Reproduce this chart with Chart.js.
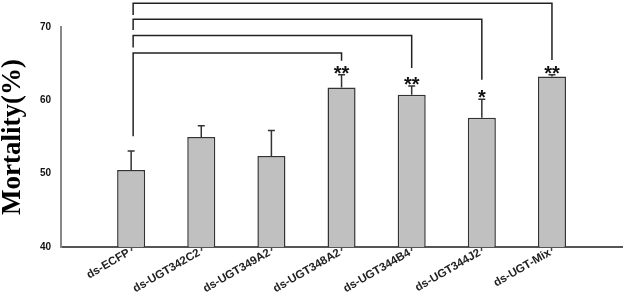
<!DOCTYPE html>
<html>
<head>
<meta charset="utf-8">
<script src="https://cdn.jsdelivr.net/npm/chart.js@4/dist/chart.umd.min.js"></script>
<style>
  html, body { margin: 0; padding: 0; background: #fff; }
  #wrap { width: 624px; height: 295px; }
</style>
</head>
<body>
<div id="wrap"><canvas id="mortalityChart" width="624" height="295"></canvas></div>
<script>
// empty slots at both ends so the bars sit on the inner grid lines
const categories = ['', 'ds-ECFP', 'ds-UGT342C2', 'ds-UGT349A2', 'ds-UGT348A2', 'ds-UGT344B4', 'ds-UGT344J2', 'ds-UGT-Mix', ''];
const mortality = [null, 50.5, 55.0, 52.4, 61.75, 60.76, 57.64, 63.24, null];
const errors = [null, 2.6, 1.55, 3.5, 1.75, 1.2, 2.5, 0.25, null];
const stars = ['', '', '', '', '**', '**', '*', '**', ''];
const yTicks = [40, 50, 60, 70];

// significance brackets: from control to bar, level and drop ends in % units
const bracketFrom = [1, 1, 1, 1];
const bracketTo = [7, 6, 5, 4];
const bracketLevel = [73.25, 71.07, 68.85, 66.46];
const bracketLeftEnd = [71.65, 69.6, 67.2, 55.1];
const bracketRightEnd = [65.5, 62.8, 64.4, 65.4];

const annotations = {
  id: 'annotations',
  afterDatasetsDraw(chart) {
    const ctx = chart.ctx;
    const x = chart.scales.x;
    const y = chart.scales.y;

    ctx.save();
    // error bars
    ctx.strokeStyle = '#333';
    ctx.lineWidth = 1.5;
    for (let i = 0; i < mortality.length; i++) {
      if (mortality[i] == null) continue;
      const px = x.getPixelForValue(i);
      const top = y.getPixelForValue(mortality[i] + errors[i]);
      const base = y.getPixelForValue(mortality[i]);
      ctx.beginPath();
      ctx.moveTo(px, base);
      ctx.lineTo(px, top);
      ctx.moveTo(px - 3.5, top);
      ctx.lineTo(px + 3.5, top);
      ctx.stroke();
    }

    // stars
    ctx.fillStyle = '#111';
    ctx.font = 'bold 20px Arial';
    ctx.textAlign = 'center';
    ctx.textBaseline = 'alphabetic';
    for (let i = 0; i < stars.length; i++) {
      if (!stars[i]) continue;
      const px = x.getPixelForValue(i);
      const top = y.getPixelForValue(mortality[i] + errors[i]);
      ctx.fillText(stars[i], px, top + 5);
    }

    // brackets
    ctx.strokeStyle = '#222';
    ctx.lineWidth = 1.5;
    for (let i = 0; i < bracketFrom.length; i++) {
      const x1 = x.getPixelForValue(bracketFrom[i]) + 2;
      const x2 = x.getPixelForValue(bracketTo[i]);
      const lv = y.getPixelForValue(bracketLevel[i]);
      ctx.beginPath();
      ctx.moveTo(x1, y.getPixelForValue(bracketLeftEnd[i]));
      ctx.lineTo(x1, lv);
      ctx.lineTo(x2, lv);
      ctx.lineTo(x2, y.getPixelForValue(bracketRightEnd[i]));
      ctx.stroke();
    }
    ctx.restore();
  }
};

new Chart(document.getElementById('mortalityChart'), {
  type: 'bar',
  data: {
    labels: categories,
    datasets: [{
      data: mortality,
      backgroundColor: '#c0c0c0',
      borderColor: '#333',
      borderWidth: 1.5,
      categoryPercentage: 1,
      barPercentage: 0.4
    }]
  },
  options: {
    responsive: false,
    animation: false,
    layout: { padding: { top: 27, right: 0, bottom: 0, left: 0 } },
    plugins: {
      legend: { display: false },
      tooltip: { enabled: false }
    },
    scales: {
      x: {
        offset: false,
        grid: {
          offset: false,
          drawOnChartArea: false,
          drawTicks: true,
          tickLength: 4,
          tickWidth: 1.5,
          tickColor: function (c) {
            return (c.index === 0 || c.index === categories.length - 1) ? 'rgba(0,0,0,0)' : '#444';
          }
        },
        border: { color: '#555', width: 2 },
        ticks: {
          autoSkip: false,
          maxRotation: 30,
          minRotation: 30,
          padding: -5,
          labelOffset: -2,
          color: '#222',
          font: { family: 'Arial', size: 11.5, weight: 'bold' }
        },
        afterFit: function (s) { s.height = 48; }
      },
      y: {
        min: 40,
        max: 70,
        grid: { drawOnChartArea: false, drawTicks: false },
        border: { color: '#888', width: 2 },
        afterBuildTicks: function (s) {
          s.ticks = yTicks.map(function (v) { return { value: v }; });
        },
        ticks: {
          padding: 10,
          color: '#111',
          font: { family: 'Arial', size: 10, weight: 'bold' }
        },
        title: {
          display: true,
          text: 'Mortality(%)',
          color: '#000',
          padding: 0,
          font: { family: 'Liberation Serif', size: 27, weight: 'bold', lineHeight: 1 }
        },
        afterFit: function (s) { s.width = 61; }
      }
    }
  },
  plugins: [annotations]
});
</script>
</body>
</html>
